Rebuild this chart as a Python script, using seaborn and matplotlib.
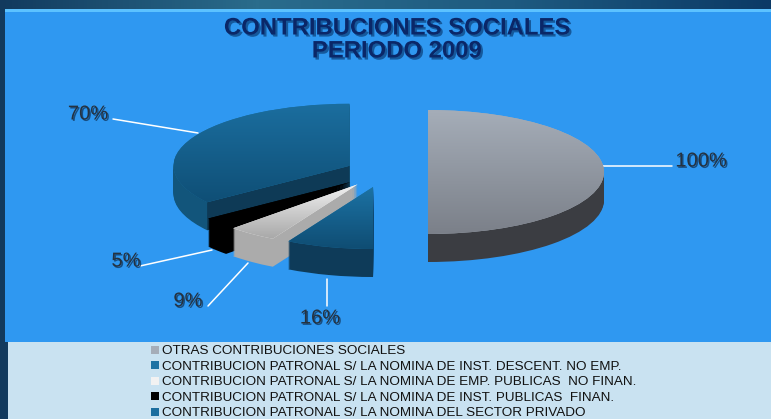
# Contribuciones sociales 2009: exploded pie with a fake 3D look
import matplotlib.patheffects as pe
import matplotlib.pyplot as plt
import numpy as np
import seaborn as sns
from matplotlib.patches import Rectangle

# Data ---------------------------------------------------------------------------------
categories = [
    "OTRAS CONTRIBUCIONES SOCIALES",
    "CONTRIBUCION PATRONAL S/ LA NOMINA DE INST. DESCENT. NO EMP.",
    "CONTRIBUCION PATRONAL S/ LA NOMINA DE EMP. PUBLICAS  NO FINAN.",
    "CONTRIBUCION PATRONAL S/ LA NOMINA DE INST. PUBLICAS  FINAN.",
    "CONTRIBUCION PATRONAL S/ LA NOMINA DEL SECTOR PRIVADO",
]
values = [100, 16, 9, 5, 70]

# Styles -------------------------------------------------------------------------------
top_light = ["#A5ADB8", "#1C72A4", "#F2F2F2", "#000000", "#1B6E9F"]
top_dark = ["#7B8089", "#0F4D73", "#A8A8A8", "#000000", "#0F4F76"]
side_colors = ["#3B3D42", "#0E3B59", "#ABABAB", "#000000", "#12557B"]
draw_rank = [5, 4, 3, 2, 1]  # back to front
explode = [0.25, 0.25, 0.25, 0.25, 0.22]
label_px = [(701, 161), (320, 318), (188, 301), (126, 261), (88, 114)]
leader_px = [
    ((603, 166), (672, 166)),
    ((327, 279), (327, 306)),
    ((248, 263), (208, 306)),
    ((212, 250), (140, 266)),
    ((198, 133), (113, 119)),
]

W, H = 771, 419
PIE_X, PIE_Y, RX, RY = 384, 172, 176, 62
DEPTH = 28
NO_EDGE = {"linewidth": 0, "edgecolor": "none"}

sns.set_theme(style="white")
plt.rcParams["font.family"] = ["Liberation Sans", "DejaVu Sans"]

fig = plt.figure(figsize=(W / 100, H / 100), dpi=100)

# Background panels, in pixels
bg = fig.add_axes([0, 0, 1, 1], zorder=0)
bg.set_axis_off()
strip = np.linspace(0, 1, 256).reshape(1, -1)
bg.imshow(
    strip,
    extent=[0, W, H, 0],
    aspect="auto",
    cmap=sns.blend_palette(
        ["#123A5E", "#2A6C8C", "#1E5A80", "#0C3A66"], as_cmap=True
    ),
)
bg.add_patch(Rectangle((5, 9), W, 333, color="#2F98F1", lw=0))
bg.add_patch(Rectangle((5, 9), W, 3, color="#5CC2FF", lw=0))
bg.add_patch(Rectangle((8, 342), W, H, color="#C9E2F1", lw=0))
bg.set_xlim(0, W)
bg.set_ylim(H, 0)

for (start, end) in leader_px:
    bg.plot([start[0], end[0]], [start[1], end[1]], color="white", lw=1.1)

shadow = [pe.withSimplePatchShadow(offset=(1, -1), shadow_rgbFace="#123C66", alpha=0.8)]
for value, (x, y) in zip(values, label_px):
    bg.text(
        x, y, f"{value}%", ha="center", va="center", fontsize=14.5,
        color="#26323F", path_effects=shadow,
    )
bg.text(
    397, 39.5, "CONTRIBUCIONES SOCIALES\nPERIODO 2009", ha="center", va="center",
    fontsize=17.2, fontweight="bold", color="#0A2768", linespacing=1.0,
    path_effects=[pe.withSimplePatchShadow(offset=(1.5, -1.5), shadow_rgbFace="#0A3F78", alpha=0.7)],
)

# Pie, squashed into an ellipse
ax = fig.add_axes([0, 0, 1, 1], zorder=1)
ax.patch.set_alpha(0)

for d in np.arange(DEPTH, 0, -1) / RY:
    walls, _ = ax.pie(
        values, explode=explode, colors=side_colors, startangle=90,
        counterclock=False, center=(0, -d), radius=1, wedgeprops=NO_EDGE,
    )
    for wedge, rank in zip(walls, draw_rank):
        wedge.set_zorder(rank + 0.5 * (1 - d * RY / DEPTH))

wedges, _ = ax.pie(
    values, explode=explode, colors=top_light, startangle=90,
    counterclock=False, center=(0, 0), radius=1, wedgeprops=NO_EDGE,
)
for i, wedge in enumerate(wedges):
    wedge.set_zorder(draw_rank[i] + 0.8)
    box = wedge.get_path().get_extents()
    cmap = sns.blend_palette([top_light[i], top_dark[i]], as_cmap=True)
    grad = ax.imshow(
        np.linspace(0, 1, 128).reshape(-1, 1),
        extent=[box.x0, box.x1, box.y0, box.y1],
        aspect="auto", cmap=cmap, origin="upper", zorder=draw_rank[i] + 0.9,
    )
    grad.set_clip_path(wedge)

# Darker cut face of the big blue slice
big = wedges[-1]
angle = np.radians(big.theta1 if big.theta1 % 360 > 180 else big.theta2)
apex_x, apex_y = big.center
rim_x, rim_y = apex_x + np.cos(angle), apex_y + np.sin(angle)
drop = DEPTH / RY
ax.fill(
    [apex_x, rim_x, rim_x, apex_x],
    [apex_y, rim_y, rim_y - drop, apex_y - drop],
    color="#0E3A56", lw=0, zorder=draw_rank[-1] + 0.7,
)

ax.set_aspect("auto")
ax.set_xlim(-PIE_X / RX, (W - PIE_X) / RX)
ax.set_ylim((PIE_Y - H) / RY, PIE_Y / RY)
ax.set_axis_off()

ax.legend(
    wedges, categories, loc="upper left", bbox_to_anchor=(150 / W, 1 - 344 / H),
    bbox_transform=fig.transFigure, frameon=False, fontsize=9.7, labelspacing=0.26,
    handlelength=0.55, handleheight=0.55, handletextpad=0.25, borderpad=0.1,
    borderaxespad=0, labelcolor="#111111",
)

plt.savefig("out.png", dpi=100)
